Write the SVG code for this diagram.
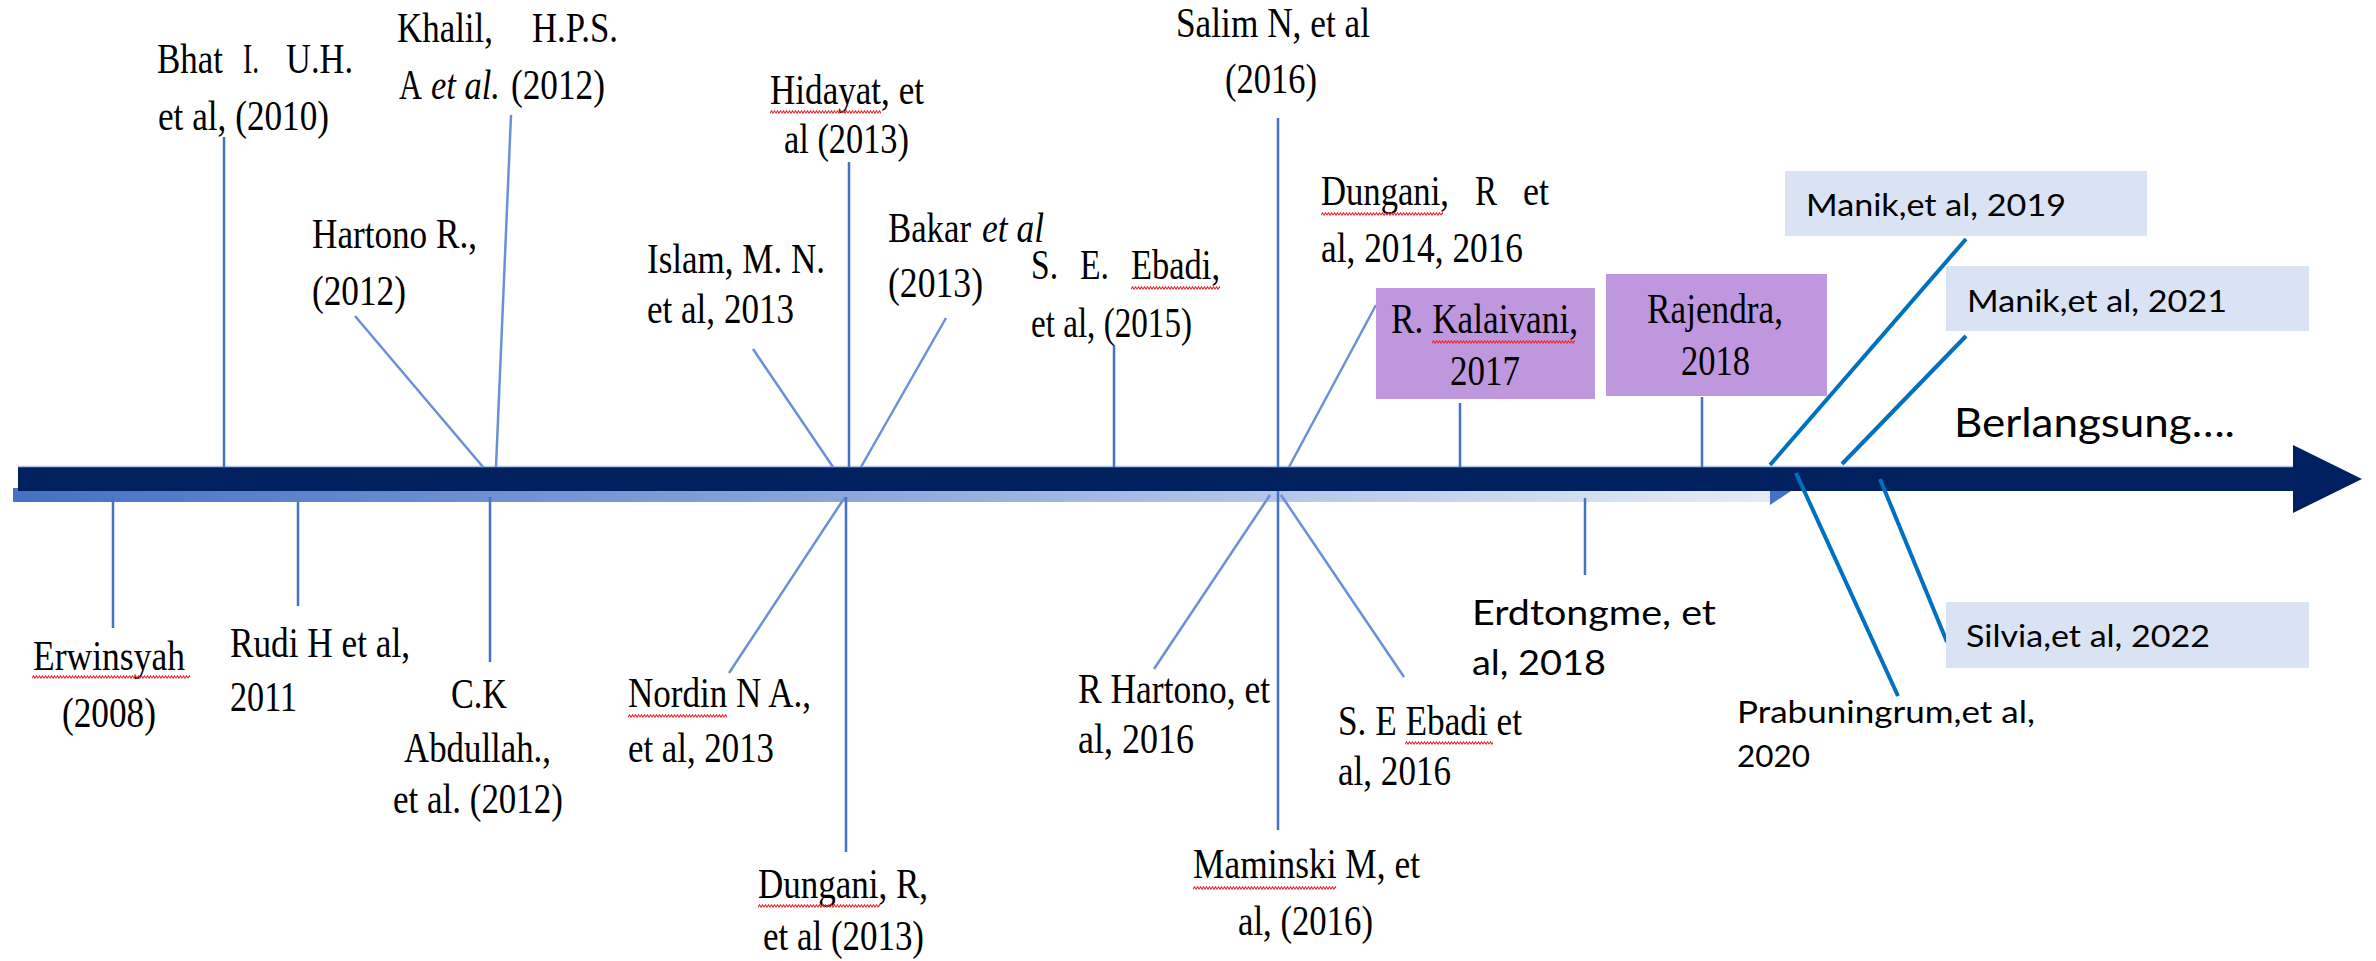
<svg xmlns="http://www.w3.org/2000/svg" width="2376" height="961" viewBox="0 0 2376 961">
<defs>
<style>
.t{font-family:"Liberation Serif","Times New Roman",serif;font-size:42px;fill:#000}
.i{font-style:italic}
.c{font-family:Lato,"Liberation Sans",sans-serif;fill:#000}
.ln{stroke:#4472C4;stroke-width:2.5;fill:none}
.ld{stroke:#6A90D8;stroke-width:2.5;fill:none}
.lr{stroke:#0070C0;stroke-width:4;fill:none}
.pb{fill:#BF97DE}
.bb{fill:#DAE3F3}
.sq{fill:url(#sq)}
</style>
<linearGradient id="strip" x1="0" x2="1" y1="0" y2="0">
<stop offset="0" stop-color="#4472C4"/>
<stop offset="0.5" stop-color="#8FAADC"/>
<stop offset="1" stop-color="#E4EBF7"/>
</linearGradient>
<pattern id="sq" width="6" height="4" patternUnits="userSpaceOnUse"><path d="M0,3.2 L1.5,0.8 L3,3.2 L4.5,0.8 L6,3.2" stroke="#F0262E" stroke-width="1.1" fill="none"/></pattern>
</defs>
<rect x="0" y="0" width="2376" height="961" fill="#fff"/>
<g id="timeline-arrow">
<rect x="13" y="488" width="1757" height="14" fill="url(#strip)"/>
<polygon points="1770,491 1770,505 1791,491" fill="#4472C4"/>
<path d="M18,467 H2293 V445 L2362,479 L2293,513 V491 H18 Z" fill="#002060"/>
<line x1="18" y1="466.5" x2="2293" y2="466.5" stroke="#B4C5E4" stroke-width="1.5"/>
</g>
<g id="connectors">
<path class="ln" d="M224,137 V467"/>
<path class="ld" d="M511,115 L496,467"/>
<path class="ld" d="M355,316 L483,467"/>
<path class="ln" d="M849,162 V467"/>
<path class="ld" d="M753,349 L833,467"/>
<path class="ld" d="M946,318 L861,467"/>
<path class="ln" d="M1114,345 V467"/>
<path class="ln" d="M1278,118 V467"/>
<path class="ld" d="M1376,305 L1289,467"/>
<path class="ln" d="M1460,403 V467"/>
<path class="ln" d="M1702,397 V467"/>
<path class="ln" d="M113,497 V628"/>
<path class="ln" d="M298,502 V606"/>
<path class="ln" d="M490,497 V662"/>
<path class="ld" d="M845,497 L729,673"/>
<path class="ln" d="M846,497 V852"/>
<path class="ld" d="M1270,495 L1154,669"/>
<path class="ln" d="M1278,491 V830"/>
<path class="ld" d="M1281,495 L1404,677"/>
<path class="ln" d="M1585,498 V575"/>
<path class="lr" d="M1966,239 L1770,465"/>
<path class="lr" d="M1966,336 L1842,464"/>
<path class="lr" d="M1796,473 L1898,696"/>
<path class="lr" d="M1880,479 L1947,642"/>
</g>
<g id="n-bhat">
<text class="t" x="157" y="73" textLength="66" lengthAdjust="spacingAndGlyphs">Bhat</text>
<text class="t" x="243" y="73" textLength="16" lengthAdjust="spacingAndGlyphs">I.</text>
<text class="t" x="286" y="73" textLength="67" lengthAdjust="spacingAndGlyphs">U.H.</text>
<text class="t" x="158" y="130" textLength="171" lengthAdjust="spacingAndGlyphs">et al, (2010)</text>
</g>
<g id="n-khalil">
<text class="t" x="397" y="42" textLength="96" lengthAdjust="spacingAndGlyphs">Khalil,</text>
<text class="t" x="532" y="42" textLength="86" lengthAdjust="spacingAndGlyphs">H.P.S.</text>
<text class="t" x="399" y="99" textLength="23" lengthAdjust="spacingAndGlyphs">A</text>
<text class="t i" x="431" y="99" textLength="69" lengthAdjust="spacingAndGlyphs">et al.</text>
<text class="t" x="511" y="99" textLength="94" lengthAdjust="spacingAndGlyphs">(2012)</text>
</g>
<g id="n-hartono-2012">
<text class="t" x="312" y="248" textLength="165" lengthAdjust="spacingAndGlyphs">Hartono R.,</text>
<text class="t" x="312" y="305" textLength="94" lengthAdjust="spacingAndGlyphs">(2012)</text>
</g>
<g id="n-hidayat">
<text class="t" x="770" y="104" textLength="154" lengthAdjust="spacingAndGlyphs">Hidayat, et</text>
<text class="t" x="784" y="153" textLength="125" lengthAdjust="spacingAndGlyphs">al (2013)</text>
<g transform="translate(770,110)"><rect class="sq" width="111" height="4"/></g>
</g>
<g id="n-islam">
<text class="t" x="647" y="273" textLength="178" lengthAdjust="spacingAndGlyphs">Islam, M. N.</text>
<text class="t" x="647" y="323" textLength="147" lengthAdjust="spacingAndGlyphs">et al, 2013</text>
</g>
<g id="n-bakar">
<text class="t" x="888" y="242" textLength="83" lengthAdjust="spacingAndGlyphs">Bakar</text>
<text class="t i" x="982" y="242" textLength="62" lengthAdjust="spacingAndGlyphs">et al</text>
<text class="t" x="888" y="297" textLength="95" lengthAdjust="spacingAndGlyphs">(2013)</text>
</g>
<g id="n-ebadi-2015">
<text class="t" x="1031" y="279" textLength="27" lengthAdjust="spacingAndGlyphs">S.</text>
<text class="t" x="1080" y="279" textLength="29" lengthAdjust="spacingAndGlyphs">E.</text>
<text class="t" x="1131" y="279" textLength="89" lengthAdjust="spacingAndGlyphs">Ebadi,</text>
<text class="t" x="1031" y="337" textLength="161" lengthAdjust="spacingAndGlyphs">et al, (2015)</text>
<g transform="translate(1131,286)"><rect class="sq" width="89" height="4"/></g>
</g>
<g id="n-salim">
<text class="t" x="1176" y="37" textLength="194" lengthAdjust="spacingAndGlyphs">Salim N, et al</text>
<text class="t" x="1225" y="93" textLength="92" lengthAdjust="spacingAndGlyphs">(2016)</text>
</g>
<g id="n-dungani-2014">
<text class="t" x="1321" y="205" textLength="128" lengthAdjust="spacingAndGlyphs">Dungani,</text>
<text class="t" x="1475" y="205" textLength="22" lengthAdjust="spacingAndGlyphs">R</text>
<text class="t" x="1523" y="205" textLength="26" lengthAdjust="spacingAndGlyphs">et</text>
<text class="t" x="1321" y="262" textLength="202" lengthAdjust="spacingAndGlyphs">al, 2014, 2016</text>
<g transform="translate(1321,212)"><rect class="sq" width="122" height="4"/></g>
</g>
<g id="n-kalaivani">
<rect class="pb" x="1376" y="288" width="219" height="111"/>
<text class="t" x="1391" y="333" textLength="187" lengthAdjust="spacingAndGlyphs">R. Kalaivani,</text>
<text class="t" x="1450" y="385" textLength="70" lengthAdjust="spacingAndGlyphs">2017</text>
<g transform="translate(1432,340)"><rect class="sq" width="143" height="4"/></g>
</g>
<g id="n-rajendra">
<rect class="pb" x="1606" y="274" width="221" height="122"/>
<text class="t" x="1647" y="323" textLength="136" lengthAdjust="spacingAndGlyphs">Rajendra,</text>
<text class="t" x="1681" y="375" textLength="69" lengthAdjust="spacingAndGlyphs">2018</text>
</g>
<g id="n-manik-2019">
<rect class="bb" x="1785" y="171" width="362" height="65"/>
<text class="c" x="1806" y="216" font-size="31" textLength="260" lengthAdjust="spacingAndGlyphs">Manik,et al, 2019</text>
</g>
<g id="n-manik-2021">
<rect class="bb" x="1946" y="266" width="363" height="65"/>
<text class="c" x="1967" y="312" font-size="31" textLength="260" lengthAdjust="spacingAndGlyphs">Manik,et al, 2021</text>
</g>
<g id="n-berlangsung">
<text class="c" x="1954" y="437" font-size="40" textLength="281" lengthAdjust="spacingAndGlyphs">Berlangsung….</text>
</g>
<g id="n-silvia">
<rect class="bb" x="1946" y="602" width="363" height="66"/>
<text class="c" x="1966" y="647" font-size="31" textLength="244" lengthAdjust="spacingAndGlyphs">Silvia,et al, 2022</text>
</g>
<g id="n-prabuningrum">
<text class="c" x="1737" y="723" font-size="31" textLength="298" lengthAdjust="spacingAndGlyphs">Prabuningrum,et al,</text>
<text class="c" x="1737" y="767" font-size="31" textLength="73" lengthAdjust="spacingAndGlyphs">2020</text>
</g>
<g id="n-erdtongme">
<text class="c" x="1472" y="625" font-size="35" textLength="244" lengthAdjust="spacingAndGlyphs">Erdtongme, et</text>
<text class="c" x="1472" y="675" font-size="35" textLength="134" lengthAdjust="spacingAndGlyphs">al, 2018</text>
</g>
<g id="n-erwinsyah">
<text class="t" x="33" y="670" textLength="152" lengthAdjust="spacingAndGlyphs">Erwinsyah</text>
<text class="t" x="62" y="727" textLength="94" lengthAdjust="spacingAndGlyphs">(2008)</text>
<g transform="translate(32,675)"><rect class="sq" width="158" height="4"/></g>
</g>
<g id="n-rudi">
<text class="t" x="230" y="657" textLength="180" lengthAdjust="spacingAndGlyphs">Rudi H et al,</text>
<text class="t" x="230" y="711" textLength="67" lengthAdjust="spacingAndGlyphs">2011</text>
</g>
<g id="n-abdullah">
<text class="t" x="451" y="708" textLength="56" lengthAdjust="spacingAndGlyphs">C.K</text>
<text class="t" x="404" y="762" textLength="147" lengthAdjust="spacingAndGlyphs">Abdullah.,</text>
<text class="t" x="393" y="813" textLength="170" lengthAdjust="spacingAndGlyphs">et al. (2012)</text>
</g>
<g id="n-nordin">
<text class="t" x="628" y="707" textLength="183" lengthAdjust="spacingAndGlyphs">Nordin N A.,</text>
<text class="t" x="628" y="762" textLength="146" lengthAdjust="spacingAndGlyphs">et al, 2013</text>
<g transform="translate(628,714)"><rect class="sq" width="99" height="4"/></g>
</g>
<g id="n-dungani-2013">
<text class="t" x="758" y="898" textLength="170" lengthAdjust="spacingAndGlyphs">Dungani, R,</text>
<text class="t" x="763" y="950" textLength="161" lengthAdjust="spacingAndGlyphs">et al (2013)</text>
<g transform="translate(758,904)"><rect class="sq" width="122" height="4"/></g>
</g>
<g id="n-r-hartono">
<text class="t" x="1078" y="703" textLength="192" lengthAdjust="spacingAndGlyphs">R Hartono, et</text>
<text class="t" x="1078" y="753" textLength="116" lengthAdjust="spacingAndGlyphs">al, 2016</text>
</g>
<g id="n-maminski">
<text class="t" x="1193" y="878" textLength="227" lengthAdjust="spacingAndGlyphs">Maminski M, et</text>
<text class="t" x="1238" y="935" textLength="135" lengthAdjust="spacingAndGlyphs">al, (2016)</text>
<g transform="translate(1193,886)"><rect class="sq" width="143" height="4"/></g>
</g>
<g id="n-ebadi-2016">
<text class="t" x="1338" y="735" textLength="184" lengthAdjust="spacingAndGlyphs">S. E Ebadi et</text>
<text class="t" x="1338" y="785" textLength="113" lengthAdjust="spacingAndGlyphs">al, 2016</text>
<g transform="translate(1405,741)"><rect class="sq" width="88" height="4"/></g>
</g>
</svg>
